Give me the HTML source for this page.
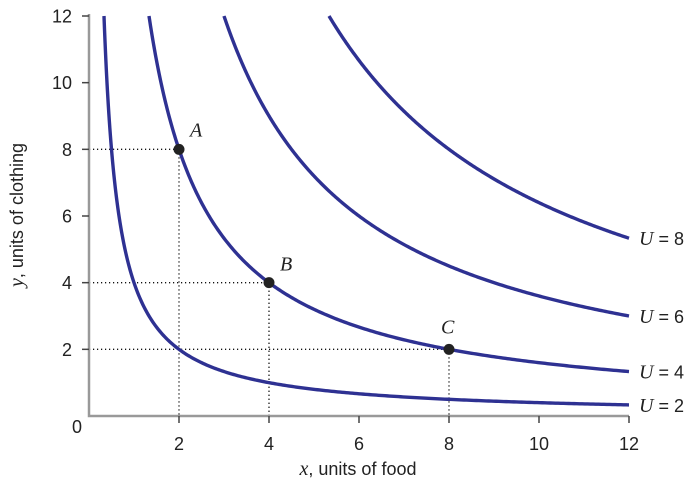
<!DOCTYPE html>
<html><head><meta charset="utf-8"><style>
body{margin:0;background:#fff}
svg{display:block}
text{font-family:"Liberation Sans",sans-serif;fill:#222}
.it{font-family:"Liberation Serif",serif;font-style:italic}
</style></head><body>
<svg id="chart" width="698" height="491" viewBox="0 0 698 491">
<g id="plot"></g>
</svg>
<script>
const utilityLevels = [2, 4, 6, 8];
const pointLabels = ["A", "B", "C"];
const pointX = [2, 4, 8];
const pointY = [8, 4, 2];
const xTicks = [2, 4, 6, 8, 10, 12];
const yTicks = [2, 4, 6, 8, 10, 12];

const X0 = 89, X1 = 629, Y0 = 416, Y1 = 16;
const xs = v => X0 + (v / 12) * (X1 - X0);
const ys = v => Y0 - (v / 12) * (Y0 - Y1);
const NS = "http://www.w3.org/2000/svg";
const g = document.getElementById("plot");
function mk(tag, attrs, parent) {
  const e = document.createElementNS(NS, tag);
  for (const k in attrs) e.setAttribute(k, attrs[k]);
  (parent || g).appendChild(e);
  return e;
}
const COL = "#2e3192";

pointX.forEach((px, i) => {
  const l1 = mk("line", {x1: X0, y1: ys(pointY[i]), x2: xs(px), y2: ys(pointY[i]), stroke: "#111", "stroke-width": 1.4, "stroke-dasharray": "1.2 2.8"});
  
  
  const l2 = mk("line", {x1: xs(px), y1: ys(pointY[i]), x2: xs(px), y2: Y0, stroke: "#111", "stroke-width": 1.4, "stroke-dasharray": "1.2 2.8"});
  
  
});

utilityLevels.forEach(u => {
  const k = u * u;
  const xStart = k / 12;
  let d = "";
  for (let i = 0; i <= 300; i++) {
    const x = xStart + (12 - xStart) * Math.pow(i / 300, 1.6);
    d += (i ? "L" : "M") + xs(x).toFixed(2) + "," + ys(k / x).toFixed(2);
  }
  const p = mk("path", {d: d, fill: "none", stroke: COL, "stroke-width": 3.4});
  
  
  const t = mk("text", {x: 639, y: ys(k / 12) + 7, "font-size": 18});
  
  
  const ti = mk("tspan", {class: "it", "font-size": 20}, t); ti.textContent = "U";
  const tr = mk("tspan", {}, t); tr.textContent = " = " + u;
});

const ax = mk("path", {d: `M${X0},${Y1-2}V${Y0}H${X1}`, fill: "none", stroke: "#999", "stroke-width": 2.5});


xTicks.forEach(v => {
  const tk = mk("line", {x1: xs(v), y1: Y0, x2: xs(v), y2: Y0 + 7, stroke: "#444", "stroke-width": 1.5});
  
  
  const t = mk("text", {x: xs(v), y: Y0 + 34, "font-size": 18, "text-anchor": "middle"});
  
  
  t.textContent = v;
});
yTicks.forEach(v => {
  const tk = mk("line", {x1: X0 - 7, y1: ys(v), x2: X0, y2: ys(v), stroke: "#444", "stroke-width": 1.5});
  
  
  const t = mk("text", {x: 72, y: ys(v) + 6.5, "font-size": 18, "text-anchor": "end"});
  
  
  t.textContent = v;
});
const z = mk("text", {x: 77, y: 433, "font-size": 18, "text-anchor": "middle"});


z.textContent = "0";

pointX.forEach((px, i) => {
  const c = mk("circle", {cx: xs(px), cy: ys(pointY[i]), r: 5.5, fill: "#222"});
  
  
});
const labOff = [[11, -13], [11, -12], [-8, -16]];
pointLabels.forEach((L, i) => {
  const t = mk("text", {x: xs(pointX[i]) + labOff[i][0], y: ys(pointY[i]) + labOff[i][1], "font-size": 20, class: "it"});
  
  
  t.textContent = L;
});

const xt = mk("text", {x: 358, y: 475, "font-size": 18, "text-anchor": "middle"});


const xi = mk("tspan", {class: "it", "font-size": 20}, xt); xi.textContent = "x";
const xr = mk("tspan", {}, xt); xr.textContent = ", units of food";
const yt = mk("text", {x: 0, y: 0, "font-size": 18, "text-anchor": "middle", transform: "translate(23,215) rotate(-90)"});


const yi = mk("tspan", {class: "it", "font-size": 20}, yt); yi.textContent = "y";
const yr = mk("tspan", {}, yt); yr.textContent = ", units of clothing";
</script>
</body></html>
